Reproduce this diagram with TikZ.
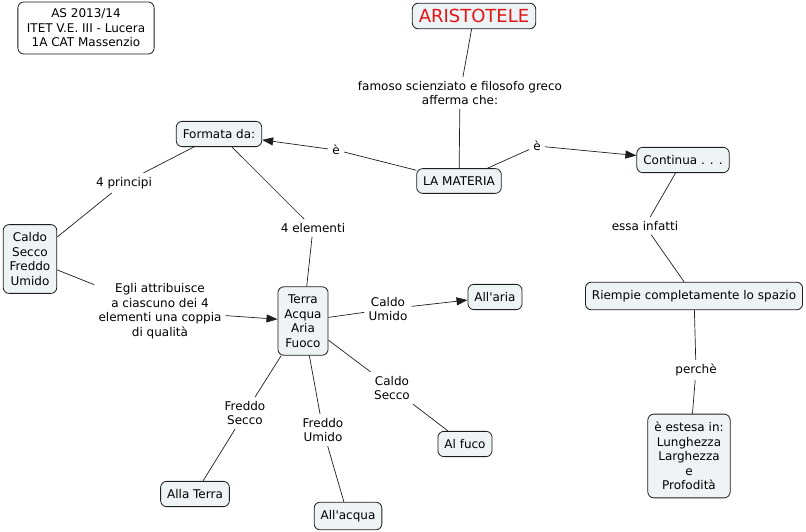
\documentclass[tikz,border=0pt]{standalone}
\usepackage{fontspec}
\setmainfont{DejaVu Sans}
\usepackage{tikz}
\usetikzlibrary{arrows.meta, positioning}
\definecolor{conceptfill}{RGB}{238,243,246}
\definecolor{titlered}{RGB}{226,22,22}
\definecolor{edge}{RGB}{30,30,30}
\tikzset{
    concept/.style={rectangle, rounded corners=6pt, draw=edge, line width=0.8pt, fill=conceptfill, align=center, inner xsep=6.5pt, inner ysep=8pt, font=\fontsize{12}{14.5}\selectfont},
    note/.style={concept, fill=white},
    link/.style={align=center, inner sep=4pt, font=\fontsize{12}{14.5}\selectfont},
    line/.style={draw=edge, line width=0.7pt},
    flow/.style={draw=edge, line width=0.7pt, -{Triangle[length=11pt, width=8pt]}}
}
\begin{document}
\begin{tikzpicture}[x=1pt, y=-1pt]
    \useasboundingbox (0,0) rectangle (806,532);

    % Concepts
    \node[note, inner xsep=9pt, inner ysep=7pt] (school) at (86,28) {AS 2013/14\\ ITET V.E. III - Lucera\\ 1A CAT Massenzio};
    \node[concept, font=\fontsize{18}{20}\selectfont, text=titlered, inner ysep=6pt] (aristotele) at (474,16) {ARISTOTELE};
    \node[concept] (materia) at (459,181) {LA MATERIA};
    \node[concept] (formata) at (219,134) {Formata da:};
    \node[concept] (continua) at (683,160) {Continua . . .};
    \node[concept] (qualita) at (30,259) {Caldo\\ Secco\\ Freddo\\ Umido};
    \node[concept] (elementi) at (303,321) {Terra\\ Acqua\\ Aria\\ Fuoco};
    \node[concept] (aria) at (495,297) {All\textquotesingle aria};
    \node[concept] (fuoco) at (465,444) {Al fuco};
    \node[concept] (terra) at (195,494) {Alla Terra};
    \node[concept] (acqua) at (348,516) {All\textquotesingle acqua};
    \node[concept] (spazio) at (694,296) {Riempie completamente lo spazio};
    \node[concept] (estesa) at (689,456) {è estesa in:\\ Lunghezza\\ Larghezza\\ e\\ Profodità};

    % Linking phrases
    \node[link] (l_famoso) at (460,93) {famoso scienziato e filosofo greco\\ afferma che:};
    \node[link] (l_e1) at (336,150) {è};
    \node[link] (l_e2) at (537,146) {è};
    \node[link] (l_principi) at (124,183) {4 principi};
    \node[link] (l_elementi) at (313,228) {4 elementi};
    \node[link] (l_egli) at (160,311) {Egli attribuisce\\ a ciascuno dei 4\\ elementi una coppia\\ di qualità};
    \node[link] (l_cu) at (388,309) {Caldo\\ Umido};
    \node[link] (l_cs) at (392,388) {Caldo\\ Secco};
    \node[link] (l_fs) at (245,413) {Freddo\\ Secco};
    \node[link] (l_fu) at (323,430) {Freddo\\ Umido};
    \node[link] (l_essa) at (645,226) {essa infatti};
    \node[link] (l_perche) at (696,370) {perchè};

    % Connections
    \draw[line] (aristotele) -- (l_famoso);
    \draw[line] (l_famoso) -- (materia);
    \draw[line] (materia) -- (l_e1);
    \draw[flow] (l_e1) -- (formata);
    \draw[line] (materia) -- (l_e2);
    \draw[flow] (l_e2) -- (continua);
    \draw[line] (formata) -- (l_principi);
    \draw[line] (l_principi) -- (qualita);
    \draw[line] (formata) -- (l_elementi);
    \draw[line] (l_elementi) -- (elementi);
    \draw[line] (qualita) -- (l_egli);
    \draw[flow] (l_egli) -- (elementi);
    \draw[line] (elementi) -- (l_cu);
    \draw[flow] (l_cu) -- (aria);
    \draw[line] (elementi) -- (l_cs);
    \draw[line] (l_cs) -- (fuoco);
    \draw[line] (elementi) -- (l_fs);
    \draw[line] (l_fs) -- (terra);
    \draw[line] (elementi) -- (l_fu);
    \draw[line] (l_fu) -- (acqua);
    \draw[line] (continua) -- (l_essa);
    \draw[line] (l_essa) -- (spazio);
    \draw[line] (spazio) -- (l_perche);
    \draw[line] (l_perche) -- (estesa);
\end{tikzpicture}
\end{document}
